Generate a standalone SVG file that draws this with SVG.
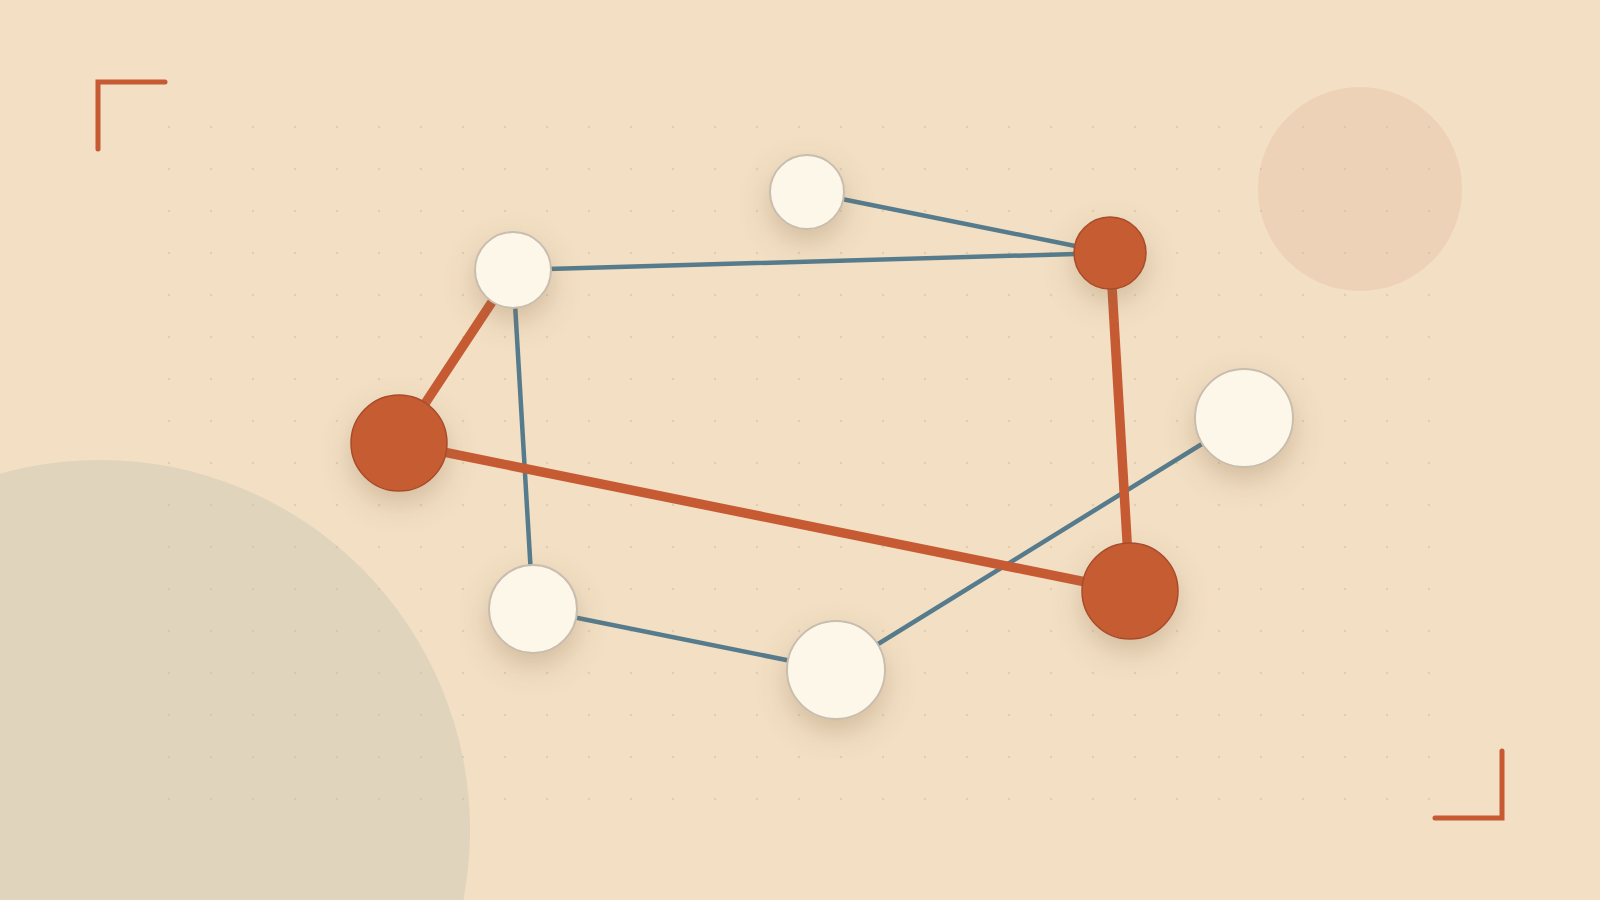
<svg xmlns="http://www.w3.org/2000/svg" width="1600" height="900" viewBox="0 0 1600 900">
  <defs>
    <pattern id="dots" x="148" y="106" width="42" height="42" patternUnits="userSpaceOnUse">
      <circle cx="21" cy="21" r="1.2" fill="#d3bea0" opacity="0.6"/>
    </pattern>
    <filter id="shadow" x="-80%" y="-80%" width="260%" height="260%">
      <feGaussianBlur in="SourceAlpha" stdDeviation="14"/>
      <feOffset dx="0" dy="12" result="b"/>
      <feFlood flood-color="#8a6a45" flood-opacity="0.3"/>
      <feComposite in2="b" operator="in"/>
      <feMerge><feMergeNode/><feMergeNode in="SourceGraphic"/></feMerge>
    </filter>
  </defs>
  <style>
    .light { fill: #fdf7ea; stroke: #c9bdad; stroke-width: 2; }
    .accent { fill: #c65b33; stroke: #a94c2a; stroke-width: 1.5; }
    .blue { stroke: #557b8c; stroke-width: 4.5; stroke-linecap: round; fill: none; }
    .orange { stroke: #c65b33; stroke-width: 9.5; stroke-linecap: round; fill: none; }
    .bracket { stroke: #c65b33; stroke-width: 5; fill: none; stroke-linecap: round; stroke-linejoin: miter; }
  </style>
  <rect width="1600" height="900" fill="#f2dfc4"/>
  <circle cx="100" cy="830" r="370" fill="#e0d4bd"/>
  <circle cx="1360" cy="189" r="102" fill="#eed2b7"/>
  <rect x="148" y="106" width="1302" height="714" fill="url(#dots)"/>
  <path class="bracket" d="M98 149 V82 H165"/>
  <path class="bracket" d="M1435 818 H1502 V751"/>
  <g id="connectors">
    <line class="blue" x1="807" y1="192" x2="1110" y2="253"/>
    <line class="blue" x1="513" y1="270" x2="1110" y2="253"/>
    <line class="blue" x1="513" y1="270" x2="533" y2="609"/>
    <line class="blue" x1="533" y1="609" x2="836" y2="670"/>
    <line class="blue" x1="836" y1="670" x2="1244" y2="418"/>
    <line class="orange" x1="513" y1="270" x2="399" y2="443"/>
    <line class="orange" x1="399" y1="443" x2="1130" y2="591"/>
    <line class="orange" x1="1110" y1="253" x2="1130" y2="591"/>
  </g>
  <g id="n1" filter="url(#shadow)"><circle class="light" cx="807" cy="192" r="37"/></g>
  <g id="n2" filter="url(#shadow)"><circle class="light" cx="513" cy="270" r="38"/></g>
  <g id="n3" filter="url(#shadow)"><circle class="accent" cx="1110" cy="253" r="36"/></g>
  <g id="n4" filter="url(#shadow)"><circle class="accent" cx="399" cy="443" r="48"/></g>
  <g id="n5" filter="url(#shadow)"><circle class="light" cx="1244" cy="418" r="49"/></g>
  <g id="n6" filter="url(#shadow)"><circle class="accent" cx="1130" cy="591" r="48"/></g>
  <g id="n7" filter="url(#shadow)"><circle class="light" cx="533" cy="609" r="44"/></g>
  <g id="n8" filter="url(#shadow)"><circle class="light" cx="836" cy="670" r="49"/></g>
</svg>
